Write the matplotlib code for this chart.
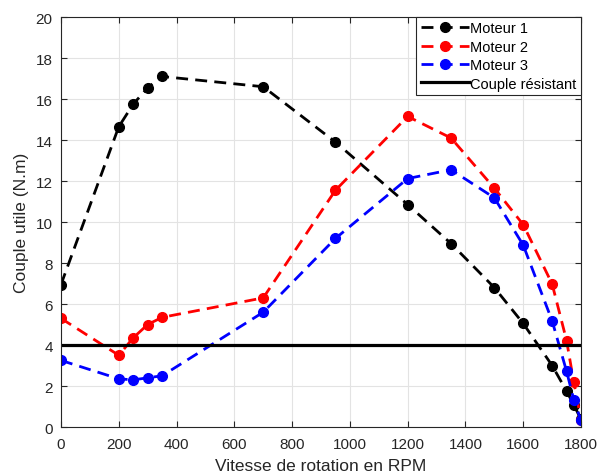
import matplotlib
matplotlib.use("Agg")
import matplotlib.pyplot as plt

plt.rcParams["font.family"] = ["Liberation Sans", "DejaVu Sans"]

# Vitesse de rotation (RPM)
speed = [0, 200, 250, 300, 350, 700, 950, 1200, 1350, 1500, 1600, 1700, 1750, 1775, 1800]

# Couple utile (N.m) pour chaque moteur
moteur1 = [6.95, 14.65, 15.75, 16.55, 17.1, 16.6, 13.9, 10.85, 8.95, 6.8, 5.05, 3.0, 1.75, 1.08, 0.37]
moteur2 = [5.3, 3.5, 4.35, 5.0, 5.35, 6.3, 11.55, 15.15, 14.1, 11.65, 9.87, 6.98, 4.22, 2.18, 0.35]
moteur3 = [3.25, 2.35, 2.3, 2.4, 2.5, 5.6, 9.2, 12.12, 12.55, 11.18, 8.87, 5.18, 2.72, 1.33, 0.32]

couple_resistant = 4.0

fig = plt.figure(figsize=(5.98, 4.77), dpi=100)
ax = fig.add_axes([0.102, 0.1027, 0.8696, 0.8595])

dark = "#262626"
styles = [("Moteur 1", moteur1, "black"),
          ("Moteur 2", moteur2, "red"),
          ("Moteur 3", moteur3, "blue")]
for label, values, color in styles:
    ax.plot(speed, values, color=color, linestyle="--", dashes=(4.3, 2.6),
            linewidth=2.0, marker="o", markersize=7, label=label)

ax.axhline(couple_resistant, color="black", linewidth=2.3, label="Couple résistant")

ax.set_xlim(0, 1800)
ax.set_ylim(0, 20)
ax.set_xticks(range(0, 1801, 200))
ax.set_yticks(range(0, 21, 2))
ax.grid(True, color="#e3e3e3", linewidth=0.8)
ax.set_axisbelow(True)

ax.tick_params(direction="in", top=True, right=True, length=4, width=0.8,
               colors=dark, labelsize=11)
ax.tick_params(axis="x", pad=7)
ax.tick_params(axis="y", pad=6)
for spine in ax.spines.values():
    spine.set_color(dark)
    spine.set_linewidth(0.8)

ax.set_xlabel("Vitesse de rotation en RPM", fontsize=12.5, color=dark, labelpad=5)
ax.set_ylabel("Couple utile (N.m)", fontsize=12.5, color=dark, labelpad=5)

leg = ax.legend(loc="upper right", fontsize=10.5, frameon=True, fancybox=False,
                edgecolor=dark, framealpha=1, borderaxespad=0.0,
                handlelength=3.3, handletextpad=0.1, labelspacing=0.3,
                borderpad=0.3)
leg.get_frame().set_linewidth(0.8)

fig.savefig("out.png", dpi=100)
